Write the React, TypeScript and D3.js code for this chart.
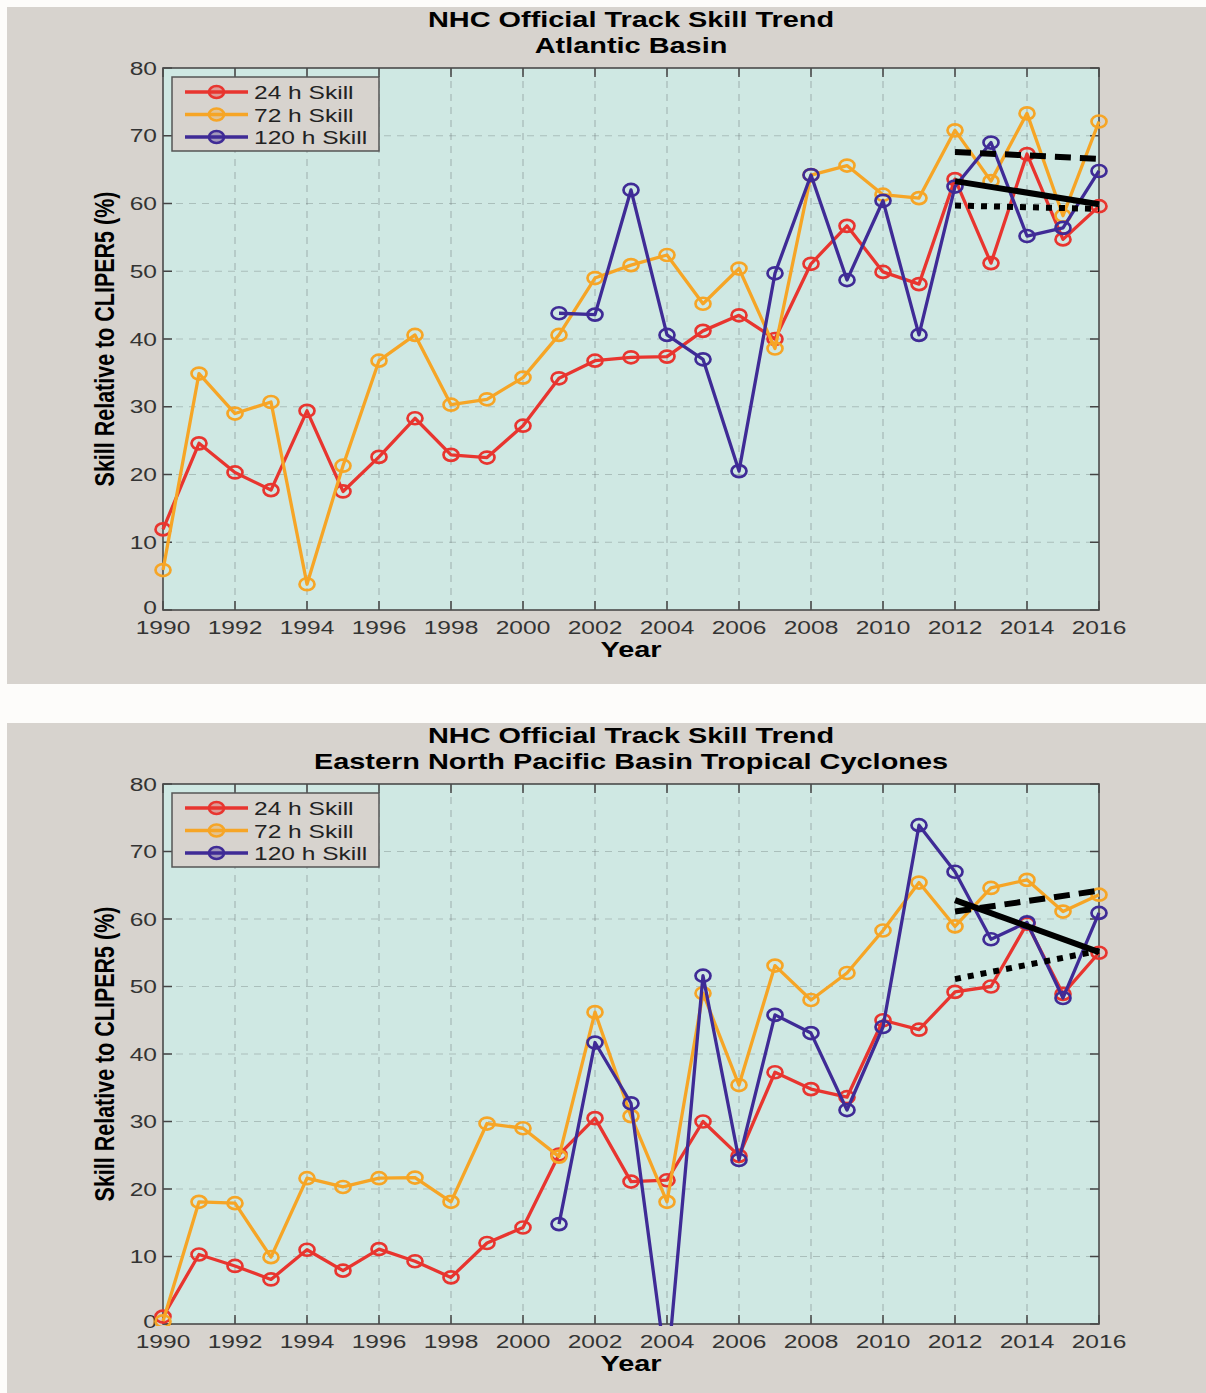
import React from "react";
import * as d3 from "d3";

// ---------- DATA ----------
const years = d3.range(1990, 2017);
const years120 = d3.range(2001, 2017);

const atl24 = [11.9, 24.6, 20.3, 17.7, 29.4, 17.5, 22.6, 28.3, 22.9, 22.5, 27.2, 34.2, 36.8, 37.3, 37.4, 41.2, 43.5, 40.0, 51.1, 56.7, 49.9, 48.1, 63.6, 51.2, 67.3, 54.7, 59.6];
const atl72 = [5.9, 34.9, 29.0, 30.7, 3.8, 21.3, 36.8, 40.6, 30.3, 31.1, 34.3, 40.6, 49.0, 50.9, 52.4, 45.2, 50.4, 38.6, 64.2, 65.6, 61.3, 60.8, 70.8, 63.3, 73.3, 58.2, 72.1];
const atl120 = [43.8, 43.6, 62.0, 40.6, 37.0, 20.5, 49.7, 64.2, 48.7, 60.4, 40.6, 62.5, 69.0, 55.2, 56.4, 64.8];
const atlTrendDashed = [67.6, 66.6];
const atlTrendSolid = [63.3, 59.9];
const atlTrendDotted = [59.7, 59.2];

const epac24 = [1.1, 10.3, 8.6, 6.6, 11.0, 7.9, 11.1, 9.3, 6.9, 12.0, 14.3, 25.1, 30.5, 21.1, 21.3, 30.0, 24.9, 37.3, 34.8, 33.6, 45.0, 43.6, 49.2, 50.0, 59.3, 48.9, 55.0];
const epac72 = [0.4, 18.1, 17.9, 9.9, 21.6, 20.3, 21.6, 21.7, 18.1, 29.7, 29.0, 24.8, 46.2, 30.8, 18.1, 49.0, 35.4, 53.1, 48.0, 52.0, 58.3, 65.4, 58.9, 64.6, 65.8, 61.1, 63.6];
const epac120 = [14.8, 41.7, 32.7, -7.5, 51.6, 24.3, 45.8, 43.1, 31.7, 44.0, 73.9, 67.0, 57.0, 59.5, 48.3, 60.9];
const epacTrendDashed = [61.1, 64.2];
const epacTrendSolid = [62.8, 55.1];
const epacTrendDotted = [51.1, 55.3];

const trendYears = [2012, 2016];
const xTicks = d3.range(1990, 2017, 2);
const yTicks = d3.range(0, 81, 10);
const seriesNames = ["24 h Skill", "72 h Skill", "120 h Skill"];
const titlesAtl = ["NHC Official Track Skill Trend", "Atlantic Basin"];
const titlesEpac = ["NHC Official Track Skill Trend", "Eastern North Pacific Basin Tropical Cyclones"];
const xLabel = "Year";
const yLabel = "Skill Relative to CLIPER5 (%)";

// ---------- STYLE ----------
const COLORS = ["#e8352f", "#f6a526", "#3f2b96"];
const SX = 1.32;
const FONT = "'Liberation Sans', Arial, Helvetica, sans-serif";
const PANEL_BG = "#d7d3ce";
const PLOT_BG = "#cfe8e3";

type PanelProps = {
  top: number;
  plotH: number;
  titles: string[];
  s24: number[];
  s72: number[];
  s120: number[];
  tDash: number[];
  tSolid: number[];
  tDot: number[];
  id: string;
};

function T(props: {
  x: number;
  y: number;
  text: string;
  size: number;
  anchor?: string;
  bold?: boolean;
  fill?: string;
  rotate?: boolean;
}) {
  const tr = `translate(${props.x},${props.y}) scale(${SX},1)` + (props.rotate ? " rotate(-90)" : "");
  return (
    <text
      transform={tr}
      textAnchor={props.anchor || "start"}
      fontFamily={FONT}
      fontSize={props.size}
      fontWeight={props.bold ? "bold" : "normal"}
      fill={props.fill || "#000"}
    >
      {props.text}
    </text>
  );
}

function Panel(p: PanelProps) {
  const left = 163;
  const plotW = 936;
  const plotTop = p.top + 61;
  const x = d3.scaleLinear().domain([1990, 2016]).range([0, plotW]);
  const y = d3.scaleLinear().domain([0, 80]).range([p.plotH, 0]);
  const line = d3
    .line<[number, number]>()
    .x((d) => x(d[0]))
    .y((d) => y(d[1]));

  const series = [
    { yrs: years, vals: p.s24, c: COLORS[0] },
    { yrs: years, vals: p.s72, c: COLORS[1] },
    { yrs: years120, vals: p.s120, c: COLORS[2] },
  ];
  const trends = [
    { vals: p.tDash, dash: "16,9" },
    { vals: p.tSolid, dash: "none" },
    { vals: p.tDot, dash: "6,7" },
  ];
  const tickLen = 9;
  const legX = 172 - left;
  const legY = 77 - 68;

  return (
    <g>
      <rect x={7} y={p.top} width={1199} height={677} fill={PANEL_BG} />
      {p.titles.map((t, i) => (
        <T key={i} x={left + plotW / 2} y={p.top + 20 + i * 25.5} text={t} size={21.9} anchor="middle" bold />
      ))}
      <T x={114} y={plotTop + p.plotH / 2} text={yLabel} size={21.5} anchor="middle" bold rotate />
      <T x={left + plotW / 2} y={plotTop + p.plotH + 47} text={xLabel} size={21.9} anchor="middle" bold />
      <g transform={`translate(${left},${plotTop})`}>
        <defs>
          <clipPath id={`clip-${p.id}`}>
            <rect x={-20} y={-20} width={plotW + 40} height={p.plotH + 22} />
          </clipPath>
        </defs>
        <rect x={0} y={0} width={plotW} height={p.plotH} fill={PLOT_BG} />
        {xTicks.slice(1, -1).map((t) => (
          <line key={"gx" + t} x1={x(t)} x2={x(t)} y1={0} y2={p.plotH} stroke="#56605f" strokeOpacity={0.42} strokeWidth={1} strokeDasharray="7,6" />
        ))}
        {yTicks.slice(1, -1).map((t) => (
          <line key={"gy" + t} x1={0} x2={plotW} y1={y(t)} y2={y(t)} stroke="#56605f" strokeOpacity={0.3} strokeWidth={1} strokeDasharray="7,6" />
        ))}
        {xTicks.map((t) => (
          <g key={"tx" + t}>
            <line x1={x(t)} x2={x(t)} y1={p.plotH} y2={p.plotH - tickLen} stroke="#444" strokeWidth={1.5} />
            <line x1={x(t)} x2={x(t)} y1={0} y2={tickLen} stroke="#444" strokeWidth={1.5} />
            <T x={x(t)} y={p.plotH + 23.5} text={String(t)} size={18.6} anchor="middle" fill="#333" />
          </g>
        ))}
        {yTicks.map((t) => (
          <g key={"ty" + t}>
            <line x1={0} x2={tickLen} y1={y(t)} y2={y(t)} stroke="#444" strokeWidth={1.5} />
            <line x1={plotW} x2={plotW - tickLen} y1={y(t)} y2={y(t)} stroke="#444" strokeWidth={1.5} />
            <T x={-6} y={y(t) + (t === 0 ? 4 : 6.5)} text={String(t)} size={18.6} anchor="end" fill="#333" />
          </g>
        ))}
        <rect x={0} y={0} width={plotW} height={p.plotH} fill="none" stroke="#4a4a4a" strokeWidth={1.6} />
        <g clipPath={`url(#clip-${p.id})`}>
          {series.map((s, i) => {
            const pts = s.yrs.map((yr, j) => [yr, s.vals[j]] as [number, number]);
            return (
              <g key={"s" + i}>
                <path d={line(pts) || ""} fill="none" stroke={s.c} strokeWidth={3.3} strokeLinejoin="round" />
                {pts.map((d, j) => (
                  <ellipse key={j} cx={x(d[0])} cy={y(d[1])} rx={7.5} ry={6} fill="none" stroke={s.c} strokeWidth={2.7} />
                ))}
              </g>
            );
          })}
          {trends.map((t, i) => (
            <path
              key={"t" + i}
              d={line(trendYears.map((yr, j) => [yr, t.vals[j]] as [number, number])) || ""}
              fill="none"
              stroke="#000"
              strokeWidth={6}
              strokeDasharray={t.dash}
            />
          ))}
        </g>
        <g transform={`translate(${legX},${legY})`}>
          <rect x={0} y={0} width={207} height={74} fill={PANEL_BG} stroke="#555" strokeWidth={1.5} />
          {seriesNames.map((n, i) => (
            <g key={n} transform={`translate(0,${15 + i * 22.5})`}>
              <line x1={13} x2={76} y1={0} y2={0} stroke={COLORS[i]} strokeWidth={3.3} />
              <ellipse cx={44.5} cy={0} rx={7.5} ry={6} fill={COLORS[i]} fillOpacity={0.35} stroke={COLORS[i]} strokeWidth={2.7} />
              <T x={82} y={7} text={n} size={18.6} fill="#222" />
            </g>
          ))}
        </g>
      </g>
    </g>
  );
}

export default function App() {
  return (
    <svg width={1206} height={1393} style={{ position: "absolute", left: 0, top: 0, background: "#fff" }}>
      <rect x={0} y={0} width={1206} height={1393} fill="#fdfcfa" />
      <Panel
        id="atl"
        top={7}
        plotH={542}
        titles={titlesAtl}
        s24={atl24}
        s72={atl72}
        s120={atl120}
        tDash={atlTrendDashed}
        tSolid={atlTrendSolid}
        tDot={atlTrendDotted}
      />
      <Panel
        id="epac"
        top={723}
        plotH={540}
        titles={titlesEpac}
        s24={epac24}
        s72={epac72}
        s120={epac120}
        tDash={epacTrendDashed}
        tSolid={epacTrendSolid}
        tDot={epacTrendDotted}
      />
    </svg>
  );
}
